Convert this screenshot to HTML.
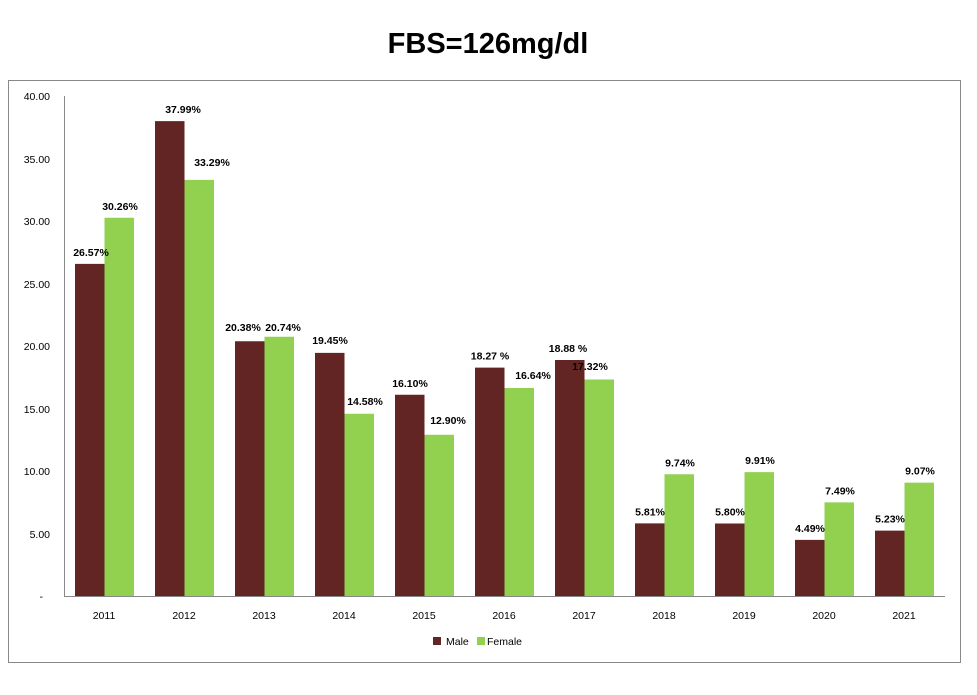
<!DOCTYPE html><html><head><meta charset="utf-8"><style>body{margin:0;background:#fff}svg{display:block}text{font-family:"Liberation Sans",Arial,sans-serif}</style></head><body>
<svg width="977" height="695" xmlns="http://www.w3.org/2000/svg">
<text x="488" y="53" font-size="29" font-weight="bold" text-anchor="middle">FBS=126mg/dl</text>
<rect x="8.5" y="80.5" width="952" height="582" fill="none" stroke="#888" stroke-width="1"/>
<g font-size="10.5" text-anchor="end" fill="#000">
<text x="50" y="100">40.00</text><text x="50" y="163">35.00</text><text x="50" y="225">30.00</text><text x="50" y="288">25.00</text><text x="50" y="350">20.00</text><text x="50" y="413">15.00</text><text x="50" y="475">10.00</text><text x="50" y="538">5.00</text><text x="43" y="600">-</text>
</g>
<g id="bars"></g>
<polyline points="64.5,96 64.5,596.5 945,596.5" fill="none" stroke="#888" stroke-width="1"/>
<g font-size="10.5" text-anchor="middle">
<text x="104" y="619">2011</text><text x="184" y="619">2012</text><text x="264" y="619">2013</text><text x="344" y="619">2014</text><text x="424" y="619">2015</text><text x="504" y="619">2016</text><text x="584" y="619">2017</text><text x="664" y="619">2018</text><text x="744" y="619">2019</text><text x="824" y="619">2020</text><text x="904" y="619">2021</text>
</g>
<rect x="433" y="637" width="8" height="8" fill="#632523"/><text x="446" y="645" font-size="10.5">Male</text>
<rect x="477" y="637" width="8" height="8" fill="#92d050"/><text x="487" y="645" font-size="10.5">Female</text>
<g id="labels" font-size="10.5" font-weight="bold" text-anchor="middle"></g>
<script>
var m=[26.57,37.99,20.38,19.45,16.10,18.27,18.88,5.81,5.80,4.49,5.23],f=[30.26,33.29,20.74,14.58,12.90,16.64,17.32,9.74,9.91,7.49,9.07];
var ml=["26.57%","37.99%","20.38%","19.45%","16.10%","18.27 %","18.88 %","5.81%","5.80%","4.49%","5.23%"],fl=["30.26%","33.29%","20.74%","14.58%","12.90%","16.64%","17.32%","9.74%","9.91%","7.49%","9.07%"];
var mx=[91,183,243,330,410,490,568,650,730,810,890],fx=[120,212,283,365,448,533,590,680,760,840,920];
var fy={5:379,6:370,3:405,4:424,2:331,1:166};var my={2:331,1:113,3:344};
var NS="http://www.w3.org/2000/svg",b=document.getElementById("bars"),l=document.getElementById("labels");
function r(x,v,c){var e=document.createElementNS(NS,"rect");var h=v*12.5;e.setAttribute("x",x);e.setAttribute("y",596-h);e.setAttribute("width",29.5);e.setAttribute("height",h);e.setAttribute("fill",c);b.appendChild(e);}
function t(x,y,s){var e=document.createElementNS(NS,"text");e.setAttribute("x",x);e.setAttribute("y",y);e.textContent=s;l.appendChild(e);}
for(var i=0;i<11;i++){var x=64+80*i+11;r(x,m[i],"#632523");r(x+29.5,f[i],"#92d050");
t(mx[i],my[i]||(596-m[i]*12.5-8),ml[i]);t(fx[i],fy[i]||(596-f[i]*12.5-8),fl[i]);}
</script>
</svg></body></html>
